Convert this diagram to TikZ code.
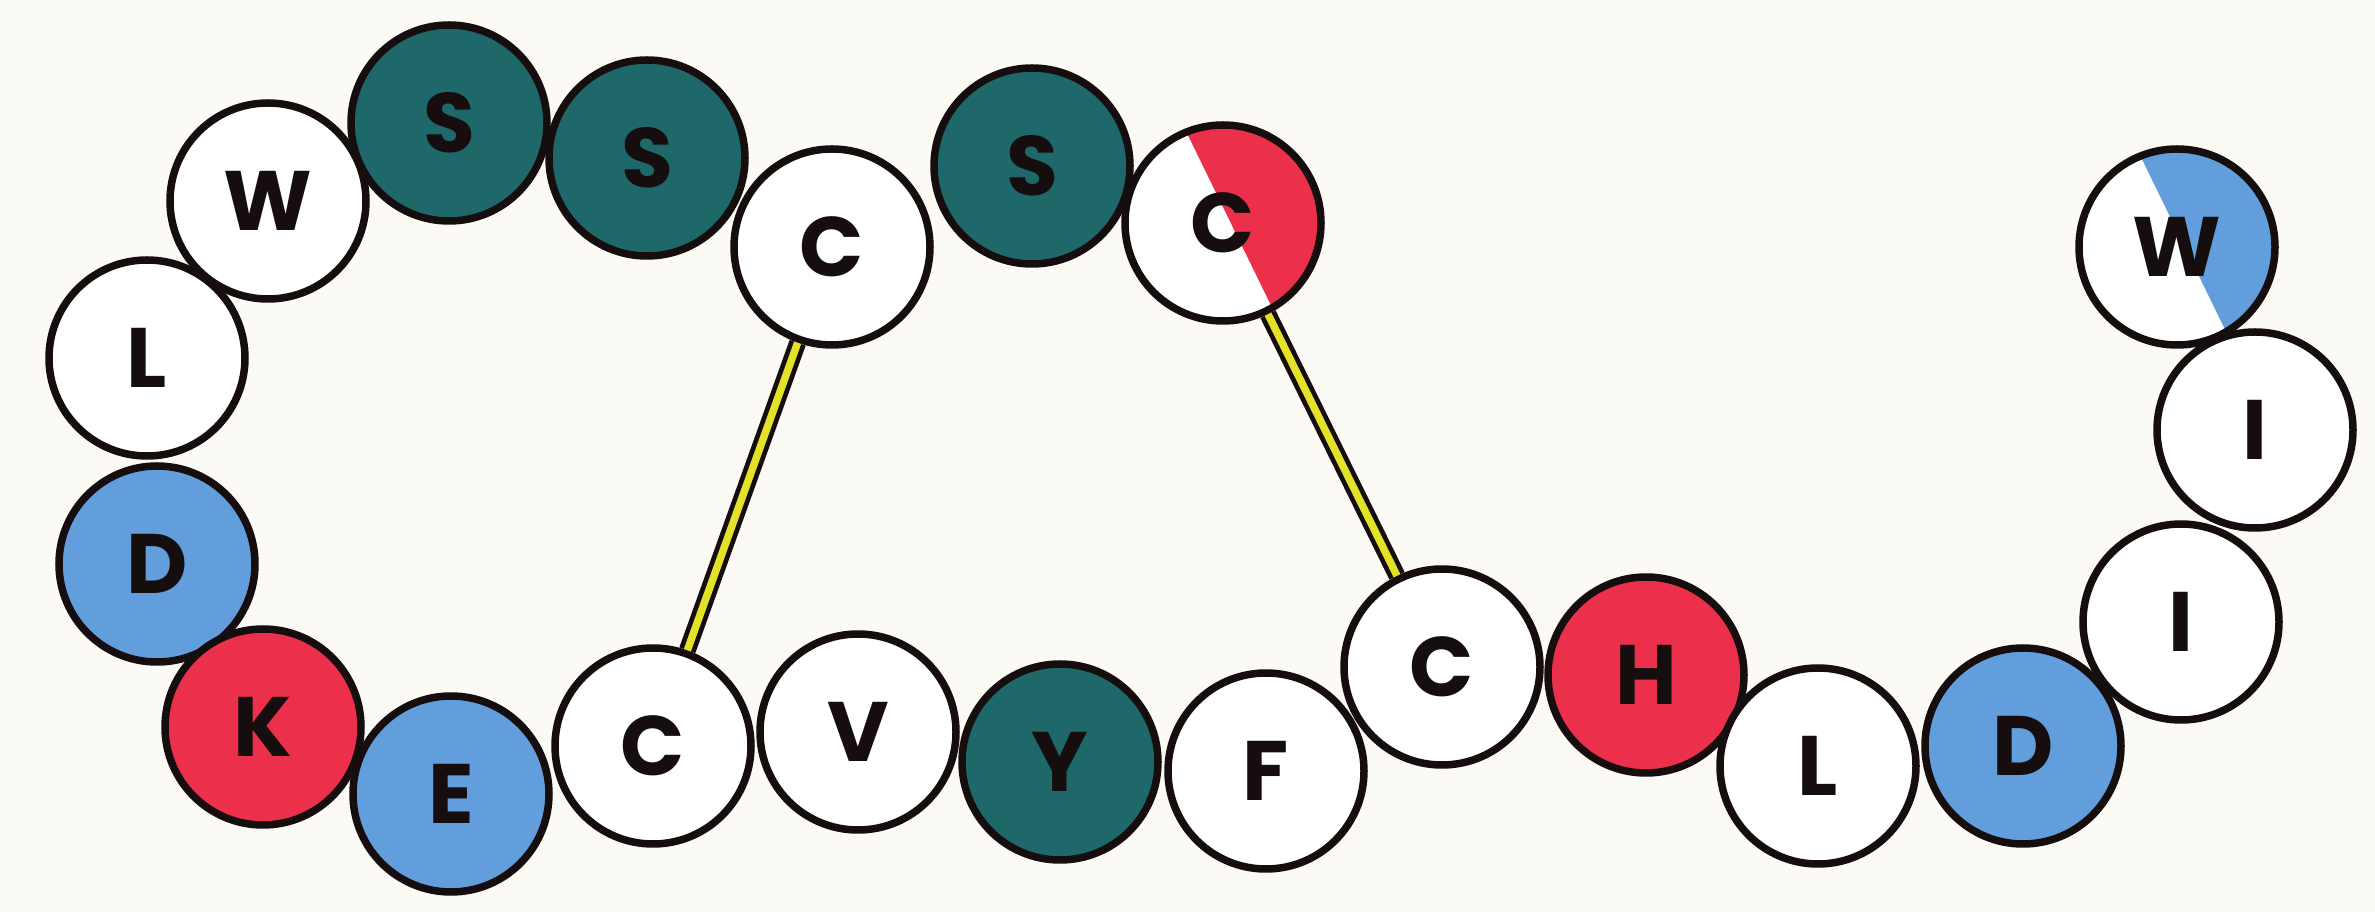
\documentclass[tikz,border=0pt]{standalone}
\usepackage{fontspec}
\setmainfont{Poppins}
\usetikzlibrary{positioning}

\definecolor{paper}{RGB}{252,250,245}
\definecolor{polarcol}{RGB}{30,104,106}
\definecolor{acidcol}{RGB}{98,157,220}
\definecolor{basecol}{RGB}{236,48,76}
\definecolor{bondcol}{RGB}{228,226,40}
\definecolor{inkcol}{RGB}{22,14,14}

\begin{document}
\begin{tikzpicture}[
  res/.style={circle, draw=inkcol, line width=0.075cm, fill=white, minimum size=1.96cm, inner sep=0pt,
    font=\fontsize{24}{24}\selectfont\bfseries, text=inkcol},
  polarres/.style={res, fill=polarcol},
  acidres/.style={res, fill=acidcol},
  baseres/.style={res, fill=basecol},
  halfres/.style={res, path picture={
      \fill[#1] (path picture bounding box.center) ++(-60:1cm) arc[start angle=-60, end angle=112, radius=1cm] -- cycle;}},
  bondout/.style={line width=0.17cm, draw=inkcol},
  bondin/.style={line width=0.075cm, draw=bondcol},
]

\fill[paper] (0,0) rectangle (23.75,9.12);

% === Residues, top loop ===
\node[res] (w1) at (2.68, 7.11) {W};
\node[polarres] (s1) at (4.49, 7.89) {S};
\node[polarres] (s2) at (6.47, 7.54) {S};
\node[res] (c1) at (8.32, 6.65) {C};
\node[polarres] (s3) at (10.32, 7.46) {S};
\node[halfres=basecol] (c2) at (12.23, 6.89) {C};

% === Residues, left side ===
\node[res] (l1) at (1.47, 5.54) {L};
\node[acidres] (d1) at (1.57, 3.48) {D};
\node[baseres] (k) at (2.63, 1.85) {K};

% === Residues, bottom row ===
\node[acidres] (e) at (4.51, 1.18) {E};
\node[res] (c3) at (6.53, 1.66) {C};
\node[res] (v) at (8.58, 1.80) {V};
\node[polarres] (y) at (10.60, 1.50) {Y};
\node[res] (f) at (12.66, 1.41) {F};
\node[res] (c4) at (14.42, 2.45) {C};
\node[baseres] (h) at (16.46, 2.37) {H};
\node[res] (l2) at (18.18, 1.46) {L};
\node[acidres] (d2) at (20.23, 1.66) {D};

% === Residues, right tail ===
\node[res] (i1) at (21.81, 2.90) {I};
\node[res] (i2) at (22.55, 4.82) {I};
\node[halfres=acidcol] (w2) at (21.77, 6.65) {W};

% === Disulfide bonds ===
\draw[bondout] (c1) -- (c3);
\draw[bondin] (c1) -- (c3);
\draw[bondout] (c2) -- (c4);
\draw[bondin] (c2) -- (c4);

\end{tikzpicture}
\end{document}
